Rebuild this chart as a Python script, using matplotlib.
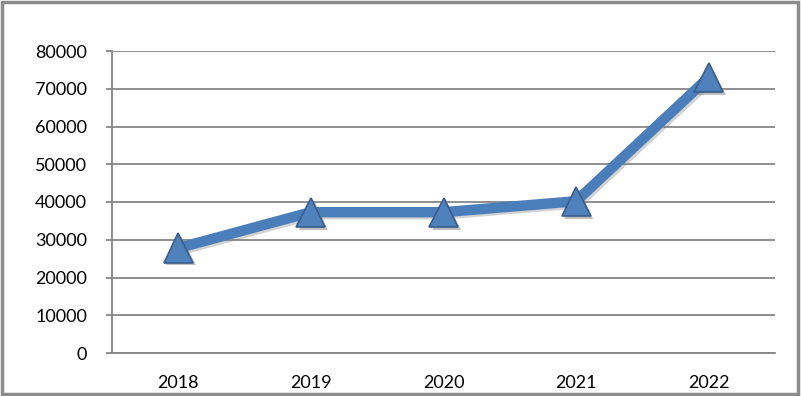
import matplotlib
matplotlib.use("Agg")
import matplotlib.pyplot as plt
import matplotlib.patheffects as pe

years = ["2018", "2019", "2020", "2021", "2022"]
values = [27800, 37300, 37300, 40200, 73000]
yticks = [0, 10000, 20000, 30000, 40000, 50000, 60000, 70000, 80000]

plt.rcParams['font.family'] = ['Lato', 'DejaVu Sans']

fig = plt.figure(figsize=(8.01, 3.96), dpi=100)
ax = fig.add_axes([112/801, 1-353/396, (775-112)/801, (353-51)/396])

x = list(range(len(years)))
line_color = "#4A7EBB"
ax.plot(x, values, color=line_color, lw=7.5, solid_capstyle='butt', zorder=3,
        path_effects=[pe.SimpleLineShadow(offset=(1.5, -1.5), shadow_color='gray', alpha=0.35), pe.Normal()])
ax.plot(x, values, linestyle='none', marker='^', markersize=21, markerfacecolor="#4F81BD",
        markeredgecolor="#385D8A", markeredgewidth=1.2, zorder=4,
        path_effects=[pe.SimplePatchShadow(offset=(2, -2), shadow_rgbFace='gray', alpha=0.5), pe.Normal()])

ax.set_xlim(-0.5, len(years) - 0.5)
ax.set_ylim(0, 80000)
ax.set_yticks(yticks)
ax.set_yticklabels([str(v) for v in yticks])
ax.set_xticks(x)
ax.set_xticklabels(years)
ax.grid(axis='y', color='#868686', lw=1.3)
ax.set_axisbelow(True)
for s in ['top', 'right']:
    ax.spines[s].set_visible(False)
for s in ['left', 'bottom']:
    ax.spines[s].set_color('#868686')
    ax.spines[s].set_linewidth(1.3)
ax.tick_params(axis='y', length=4, color='#868686', width=1.3, labelsize=13, pad=14)
ax.tick_params(axis='x', length=0, labelsize=13, pad=16)

# outer border
border = plt.Rectangle((0.002, 0.004), 0.994, 0.99, transform=fig.transFigure,
                       fill=False, edgecolor='#8C8C8C', lw=2.5)
fig.patches.append(border)

fig.savefig("out.png", dpi=100)
